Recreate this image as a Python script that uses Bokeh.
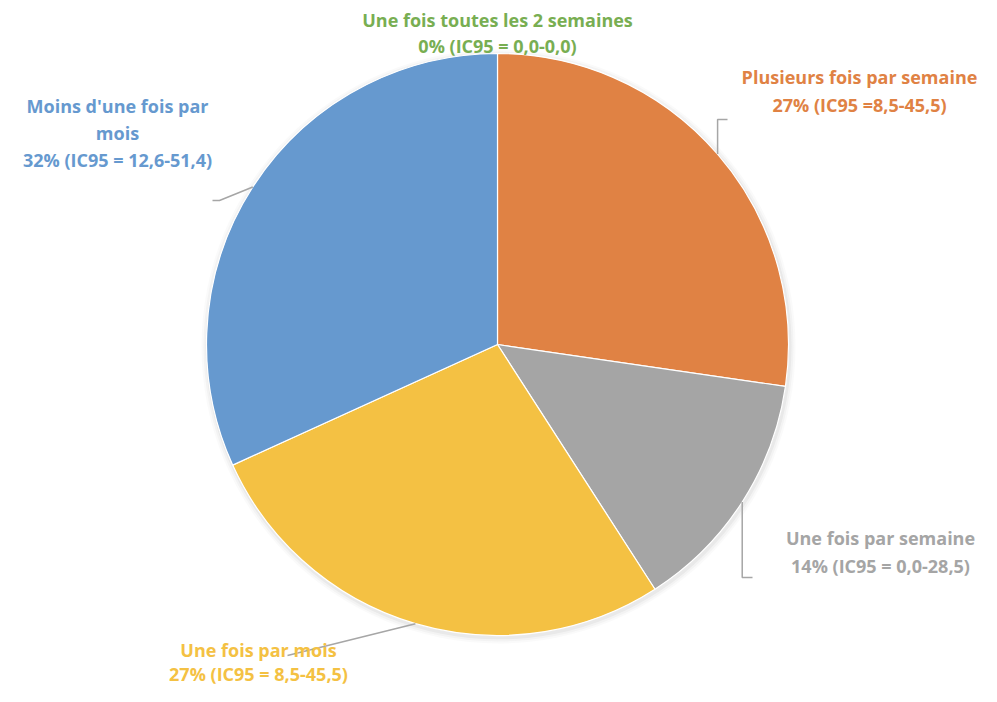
import math
from bokeh.plotting import figure
from bokeh.models import Range1d
from bokeh.core.properties import value
from bokeh.embed import file_html
from bokeh.resources import INLINE

# ---- data ----
categories = ["Plusieurs fois par semaine", "Une fois par semaine", "Une fois par mois",
              "Moins d'une fois par mois", "Une fois toutes les 2 semaines"]
percent = [27.3, 13.6, 27.3, 31.8, 0.0]
pct_labels = ["27% (IC95 =8,5-45,5)", "14% (IC95 = 0,0-28,5)", "27% (IC95 = 8,5-45,5)",
              "32% (IC95 = 12,6-51,4)", "0% (IC95 = 0,0-0,0)"]
fill_colors = ["#E08244", "#A5A5A5", "#F4C143", "#6699CF", "#72AD4E"]
text_colors = ["#E08244", "#A5A5A5", "#F4C143", "#6699CF", "#78AE52"]

W, H = 981, 686
DY = -6  # small global upward shift so the bottom label fits
def Y(py):
    return 702 - (py + DY)

p = figure(width=W, height=H, output_backend="svg", toolbar_location=None,
           x_range=Range1d(0, W), y_range=Range1d(702 - H, 702),
           min_border=0, background_fill_color="white", border_fill_color="white")
p.axis.visible = False
p.xgrid.visible = False
p.ygrid.visible = False
p.outline_line_color = None

cx, cy, R = 497, Y(350), 291

# soft shadow
for dr, a in [(6, 0.04), (4, 0.06), (2, 0.09)]:
    p.circle(x=[cx + 1], y=[cy - 2], radius=R + dr, fill_color="#808080", fill_alpha=a, line_color=None)

total = sum(percent)
cum = [0.0]
for v in percent:
    cum.append(cum[-1] + v / total)
starts = [math.pi / 2 - 2 * math.pi * c for c in cum[:-1]]
ends = [math.pi / 2 - 2 * math.pi * c for c in cum[1:]]
mids = [math.pi / 2 - 2 * math.pi * (a + b) / 2 for a, b in zip(cum[:-1], cum[1:])]

for i in range(len(percent)):
    if percent[i] <= 0:
        continue
    p.wedge(x=[cx], y=[cy], radius=R, start_angle=[starts[i]], end_angle=[ends[i]],
            direction="clock", fill_color=fill_colors[i], line_color="white", line_width=1.2)

# leader lines: start at slice mid-angle on the rim
def rim(i):
    return cx + R * math.cos(mids[i]), cy + R * math.sin(mids[i])

sx, sy = rim(0)
p.line([sx, sx, 727], [sy, Y(125), Y(125)], line_color="#A6A6A6", line_width=1.5)
sx, sy = rim(1)
p.line([sx, sx, 752], [sy, Y(583), Y(583)], line_color="#A6A6A6", line_width=1.5)
sx, sy = rim(2)
p.line([sx, 287], [sy, Y(661)], line_color="#A6A6A6", line_width=1.5)
sx, sy = rim(3)
p.line([sx, 219, 212], [sy, Y(206), Y(206)], line_color="#A6A6A6", line_width=1.5)

# label layout (reference pixel positions)
label_pos = {
    0: (859, [82, 110]),
    1: (880, [543, 571]),
    2: (258, [655, 679]),
    3: (117, [111, 138, 165]),
    4: (497, [25, 51]),
}
label_lines = {
    0: [categories[0], pct_labels[0]],
    1: [categories[1], pct_labels[1]],
    2: [categories[2], pct_labels[2]],
    3: ["Moins d'une fois par", "mois", pct_labels[3]],
    4: [categories[4], pct_labels[4]],
}
for i, (lx, lys) in label_pos.items():
    for txt, ly in zip(label_lines[i], lys):
        p.text(x=[lx], y=[Y(ly)], text=[txt], text_align="center", text_baseline="middle",
               text_font=value("Open Sans"), text_font_style="bold", text_font_size="18px",
               text_color=text_colors[i])

open("out.html", "w").write(file_html(p, INLINE))
